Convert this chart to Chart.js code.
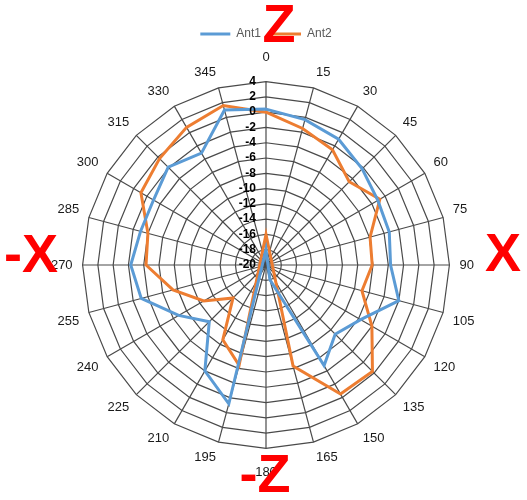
<!DOCTYPE html>
<html>
<head>
<meta charset="utf-8">
<script src="https://cdn.jsdelivr.net/npm/chart.js@4"></script>
<style>
  html, body { margin: 0; padding: 0; background: #fff; }
  #wrap { width: 527px; height: 500px; }
</style>
</head>
<body>
<div id="wrap"><canvas id="chart1" width="527" height="500"></canvas></div>
<script>
// angles (degrees) round the chart
const angles = ['0','15','30','45','60','75','90','105','120','135','150','165',
                '180','195','210','225','240','255','270','285','300','315','330','345'];

// gain values
const ant1 = [0.4, -0.3, -1.0, -2.2, -3.1, -3.3, -3.7, -2.0, -5.7, -7.2, -4.8, -18,
              -22, -1.2, -4.0, -9.5, -6.8, -3.1, -2.3, -3.0, -3.0, -1.9, -3.1, 1.0];
const ant2 = [0.0, -1.5, -2.6, -4.6, -2.8, -5.9, -6.1, -7.0, -4.0, -0.3, -0.5, -6.3,
              -24, -6.4, -8.7, -13.9, -10.6, -7.4, -4.3, -4.0, -1.1, -0.3, 0.8, 1.6];

const scaleMin = -20;
const scaleMax = 4;
const scaleStep = 2;

// red axis names written over the chart
const axisNames = [
    { text: 'Z',  dx: 13,   dy: -238 },
    { text: 'X',  dx: 237,  dy: -9 },
    { text: '-Z', dx: -1,   dy: 212 },
    { text: '-X', dx: -235, dy: -8 }
];

// tick labels drawn right-aligned just left of the 0 spoke
const tickLabels = {
    id: 'tickLabels',
    afterDatasetsDraw(chart) {
        const s = chart.scales.r;
        const ctx = chart.ctx;
        ctx.save();
        ctx.font = 'bold 12px "Liberation Sans", Arial, sans-serif';
        ctx.fillStyle = '#000';
        ctx.textAlign = 'right';
        ctx.textBaseline = 'middle';
        s.ticks.forEach(t => {
            const y = s.yCenter - s.getDistanceFromCenterForValue(t.value);
            ctx.fillText(String(t.value), s.xCenter - 10, y);
        });
        ctx.restore();
    }
};

// angle labels: box corner sits just outside the outer ring, like Excel
const angleLabels = {
    id: 'angleLabels',
    afterDraw(chart) {
        const s = chart.scales.r;
        const ctx = chart.ctx;
        ctx.save();
        ctx.font = '13px "Liberation Sans", Arial, sans-serif';
        ctx.fillStyle = '#1a1a1a';
        ctx.textAlign = 'center';
        ctx.textBaseline = 'middle';
        angles.forEach((a, i) => {
            const rad = Number(a) * Math.PI / 180;
            const sn = Math.sin(rad), cs = Math.cos(rad);
            const w = ctx.measureText(a).width;
            const h = 12;
            let p, ox = 0, oy = 0;
            if (Math.abs(sn) < 0.01) {
                p = s.getPointPosition(i, s.drawingArea + 18);
                oy = cs > 0 ? -h / 2 : h / 2;
            } else {
                p = s.getPointPosition(i, s.drawingArea + 10);
                ox = sn > 0 ? w / 2 : -w / 2;
                if (Math.abs(cs) > 0.01) oy = cs > 0 ? -h / 2 : h / 2;
            }
            ctx.fillText(a, p.x + ox, p.y + oy);
        });
        ctx.restore();
    }
};

const axisLetters = {
    id: 'axisLetters',
    afterDraw(chart) {
        const s = chart.scales.r;
        const ctx = chart.ctx;
        ctx.save();
        ctx.font = 'bold 54px "Liberation Sans", Arial, sans-serif';
        ctx.fillStyle = '#ff0000';
        ctx.textAlign = 'center';
        ctx.textBaseline = 'middle';
        axisNames.forEach(a => {
            ctx.fillText(a.text, s.xCenter + a.dx, s.yCenter + a.dy);
        });
        ctx.restore();
    }
};

new Chart(document.getElementById('chart1'), {
    type: 'radar',
    data: {
        labels: angles,
        datasets: [{
            label: 'Ant1',
            data: ant1,
            borderColor: '#5b9bd5',
            backgroundColor: '#5b9bd5',
            borderWidth: 3,
            pointRadius: 0,
            fill: false
        }, {
            label: 'Ant2',
            data: ant2,
            borderColor: '#ed7d31',
            backgroundColor: '#ed7d31',
            borderWidth: 3,
            pointRadius: 0,
            fill: false
        }]
    },
    options: {
        responsive: false,
        animation: false,
        layout: { padding: { top: 18, bottom: 18, left: 5, right: 0 } },
        plugins: {
            legend: {
                position: 'top',
                labels: {
                    usePointStyle: true,
                    pointStyle: 'line',
                    pointStyleWidth: 30,
                    color: '#595959',
                    font: { family: '"Liberation Sans", Arial, sans-serif', size: 12 },
                    padding: 10
                }
            },
            tooltip: { enabled: false }
        },
        scales: {
            r: {
                min: scaleMin,
                max: scaleMax,
                ticks: { stepSize: scaleStep, display: false },
                grid: { color: '#4a4a4a', lineWidth: 1.2 },
                angleLines: { color: '#4a4a4a', lineWidth: 1.2 },
                pointLabels: {
                    // kept for sizing only; the visible labels come from angleLabels
                    color: 'rgba(0,0,0,0)',
                    padding: 17,
                    font: { family: '"Liberation Sans", Arial, sans-serif', size: 13 }
                }
            }
        }
    },
    plugins: [tickLabels, angleLabels, axisLetters]
});
</script>
</body>
</html>
